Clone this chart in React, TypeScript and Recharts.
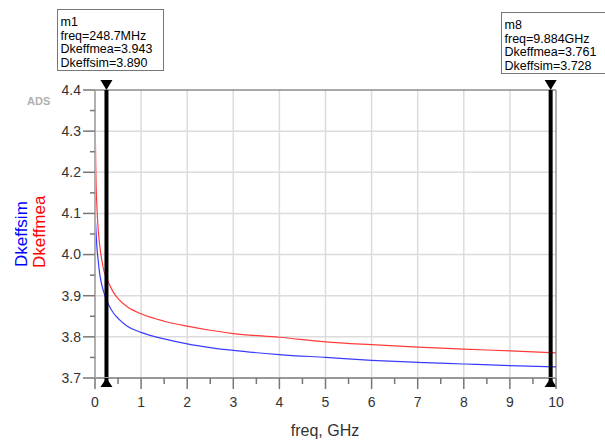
import React from 'react';
import { LineChart, Line, XAxis, YAxis, ReferenceLine, ReferenceDot } from 'recharts';

// frequency in GHz
const freq = [0.005, 0.02, 0.04, 0.07, 0.1, 0.15, 0.2, 0.2487, 0.3, 0.4, 0.5, 0.7, 1, 1.5, 2, 2.5, 3, 4, 5, 6, 7, 8, 9, 10];
const dkeffMea = [4.31, 4.19, 4.12, 4.06, 4.025, 3.985, 3.958, 3.943, 3.93, 3.908, 3.893, 3.873, 3.856, 3.838, 3.826, 3.816, 3.808, 3.799, 3.788, 3.781, 3.775, 3.77, 3.766, 3.761];
const dkeffSim = [4.09, 4.06, 4.02, 3.985, 3.955, 3.925, 3.905, 3.89, 3.877, 3.858, 3.845, 3.826, 3.811, 3.795, 3.783, 3.774, 3.767, 3.757, 3.75, 3.743, 3.738, 3.734, 3.73, 3.727];

const xMajor = [0, 1, 2, 3, 4, 5, 6, 7, 8, 9, 10];
const xMinor = [0.5, 1.5, 2.5, 3.5, 4.5, 5.5, 6.5, 7.5, 8.5, 9.5];
const yMajor = [3.7, 3.8, 3.9, 4.0, 4.1, 4.2, 4.3, 4.4];
const yMinor = [3.75, 3.85, 3.95, 4.05, 4.15, 4.25, 4.35];

const markerNames = ['m1', 'm8'];
const markerFreq = [0.2487, 9.884];
const markerFreqText = ['248.7MHz', '9.884GHz'];
const markerMea = ['3.943', '3.761'];
const markerSim = ['3.890', '3.728'];

const data = freq.map((f, i) => ({ f, mea: dkeffMea[i], sim: dkeffSim[i] }));
const xTicks = [...xMajor, ...xMinor].sort((a, b) => a - b);
const yTicks = [...yMajor, ...yMinor].sort((a, b) => a - b);

const FONT = '"Liberation Sans", Arial, sans-serif';

const XTick = (props: any) => {
  const { x, y, payload } = props;
  const major = Number.isInteger(payload.value);
  return (
    <g>
      <line x1={x} x2={x} y1={y} y2={y + (major ? 11 : 6)} stroke="#777" strokeWidth={1.5} />
      {major && (
        <text x={x} y={y + 29} textAnchor="middle" fontSize={14} fill="#333" fontFamily={FONT}>
          {payload.value}
        </text>
      )}
    </g>
  );
};

const YTick = (props: any) => {
  const { x, y, payload } = props;
  const major = Math.round(payload.value * 100) % 10 === 0;
  return (
    <g>
      <line x1={x - (major ? 12 : 5)} x2={x} y1={y} y2={y} stroke="#777" strokeWidth={1.5} />
      {major && (
        <text x={x - 14} y={y} dy="0.35em" textAnchor="end" fontSize={14} fill="#333" fontFamily={FONT}>
          {payload.value.toFixed(1)}
        </text>
      )}
    </g>
  );
};

const TriDown = (props: any) => {
  const { cx, cy } = props;
  return <path d={`M${cx - 6},${cy - 10} L${cx + 6},${cy - 10} L${cx},${cy} Z`} fill="#000" />;
};

const TriUp = (props: any) => {
  const { cx, cy } = props;
  return (
    <g>
      <line x1={cx} x2={cx} y1={cy} y2={cy + 9} stroke="#000" strokeWidth={4} />
      <path d={`M${cx - 6},${cy + 9} L${cx + 6},${cy + 9} L${cx},${cy} Z`} fill="#000" />
    </g>
  );
};

const MarkerBox = ({ x, y, i }: { x: number; y: number; i: number }) => (
  <g fontFamily={FONT} fontSize={12.5} fill="#000">
    <rect x={x} y={y} width={i === 0 ? 106 : 110} height={61} fill="#fff" stroke="#777" strokeWidth={1} />
    <text x={x + 3} y={y + 16.5}>{markerNames[i]}</text>
    <text x={x + 3} y={y + 30}>freq={markerFreqText[i]}</text>
    <text x={x + 3} y={y + 43.5}>Dkeffmea={markerMea[i]}</text>
    <text x={x + 3} y={y + 57}>Dkeffsim={markerSim[i]}</text>
  </g>
);

export default function App() {
  return (
    <div style={{ position: 'absolute', left: 0, top: 0, width: 605, height: 441, background: '#fff' }}>
      <LineChart width={605} height={441} data={data} margin={{ top: 90, right: 49, bottom: 0, left: 0 }}>
        <XAxis
          dataKey="f"
          type="number"
          domain={[0, 10]}
          ticks={xTicks}
          interval={0}
          height={63}
          tickSize={0}
          tickMargin={0}
          tickLine={false}
          axisLine={{ stroke: '#999', strokeWidth: 2 }}
          tick={<XTick />}
        />
        <YAxis
          type="number"
          domain={[3.7, 4.4]}
          ticks={yTicks}
          interval={0}
          width={95}
          tickSize={0}
          tickMargin={0}
          tickLine={false}
          allowDataOverflow
          axisLine={{ stroke: '#b0b0b0', strokeWidth: 2 }}
          tick={<YTick />}
        />
        {xMajor.slice(1, -1).map((v) => (
          <ReferenceLine key={'gx' + v} x={v} stroke="#dcdcdc" strokeWidth={1.5} />
        ))}
        {yMajor.slice(1, -1).map((v) => (
          <ReferenceLine key={'gy' + v} y={v} stroke="#dcdcdc" strokeWidth={1.5} />
        ))}
        <ReferenceLine y={4.4} stroke="#555" strokeWidth={1} />
        <ReferenceLine x={10} stroke="#999" strokeWidth={1.5} />
        <Line type="monotone" dataKey="mea" stroke="#ff3b3b" strokeWidth={1.2} dot={false} isAnimationActive={false} />
        <Line type="monotone" dataKey="sim" stroke="#3b3bff" strokeWidth={1.2} dot={false} isAnimationActive={false} />
        {markerFreq.map((f) => (
          <ReferenceLine key={'m' + f} x={f} stroke="#000" strokeWidth={4} />
        ))}
        {markerFreq.map((f) => (
          <ReferenceDot key={'td' + f} x={f} y={4.4} r={6} shape={<TriDown />} ifOverflow="visible" />
        ))}
        {markerFreq.map((f) => (
          <ReferenceDot key={'tu' + f} x={f} y={3.7} r={6} shape={<TriUp />} ifOverflow="visible" />
        ))}
      </LineChart>
      <svg width={605} height={441} style={{ position: 'absolute', left: 0, top: 0, pointerEvents: 'none' }}>
        <MarkerBox x={57.5} y={9.5} i={0} />
        <MarkerBox x={501.5} y={12.5} i={1} />
        <text x={27} y={105} fontFamily={FONT} fontSize={11} fontWeight="bold" fill="#b0b0b0">ADS</text>
        <text transform="translate(27,267) rotate(-90)" fontFamily={FONT} fontSize={17} fill="#0000ff">Dkeffsim</text>
        <text transform="translate(45,268) rotate(-90)" fontFamily={FONT} fontSize={17} fill="#ff0000">Dkeffmea</text>
        <text x={325} y={436} textAnchor="middle" fontFamily={FONT} fontSize={16} fill="#333">freq, GHz</text>
      </svg>
    </div>
  );
}
